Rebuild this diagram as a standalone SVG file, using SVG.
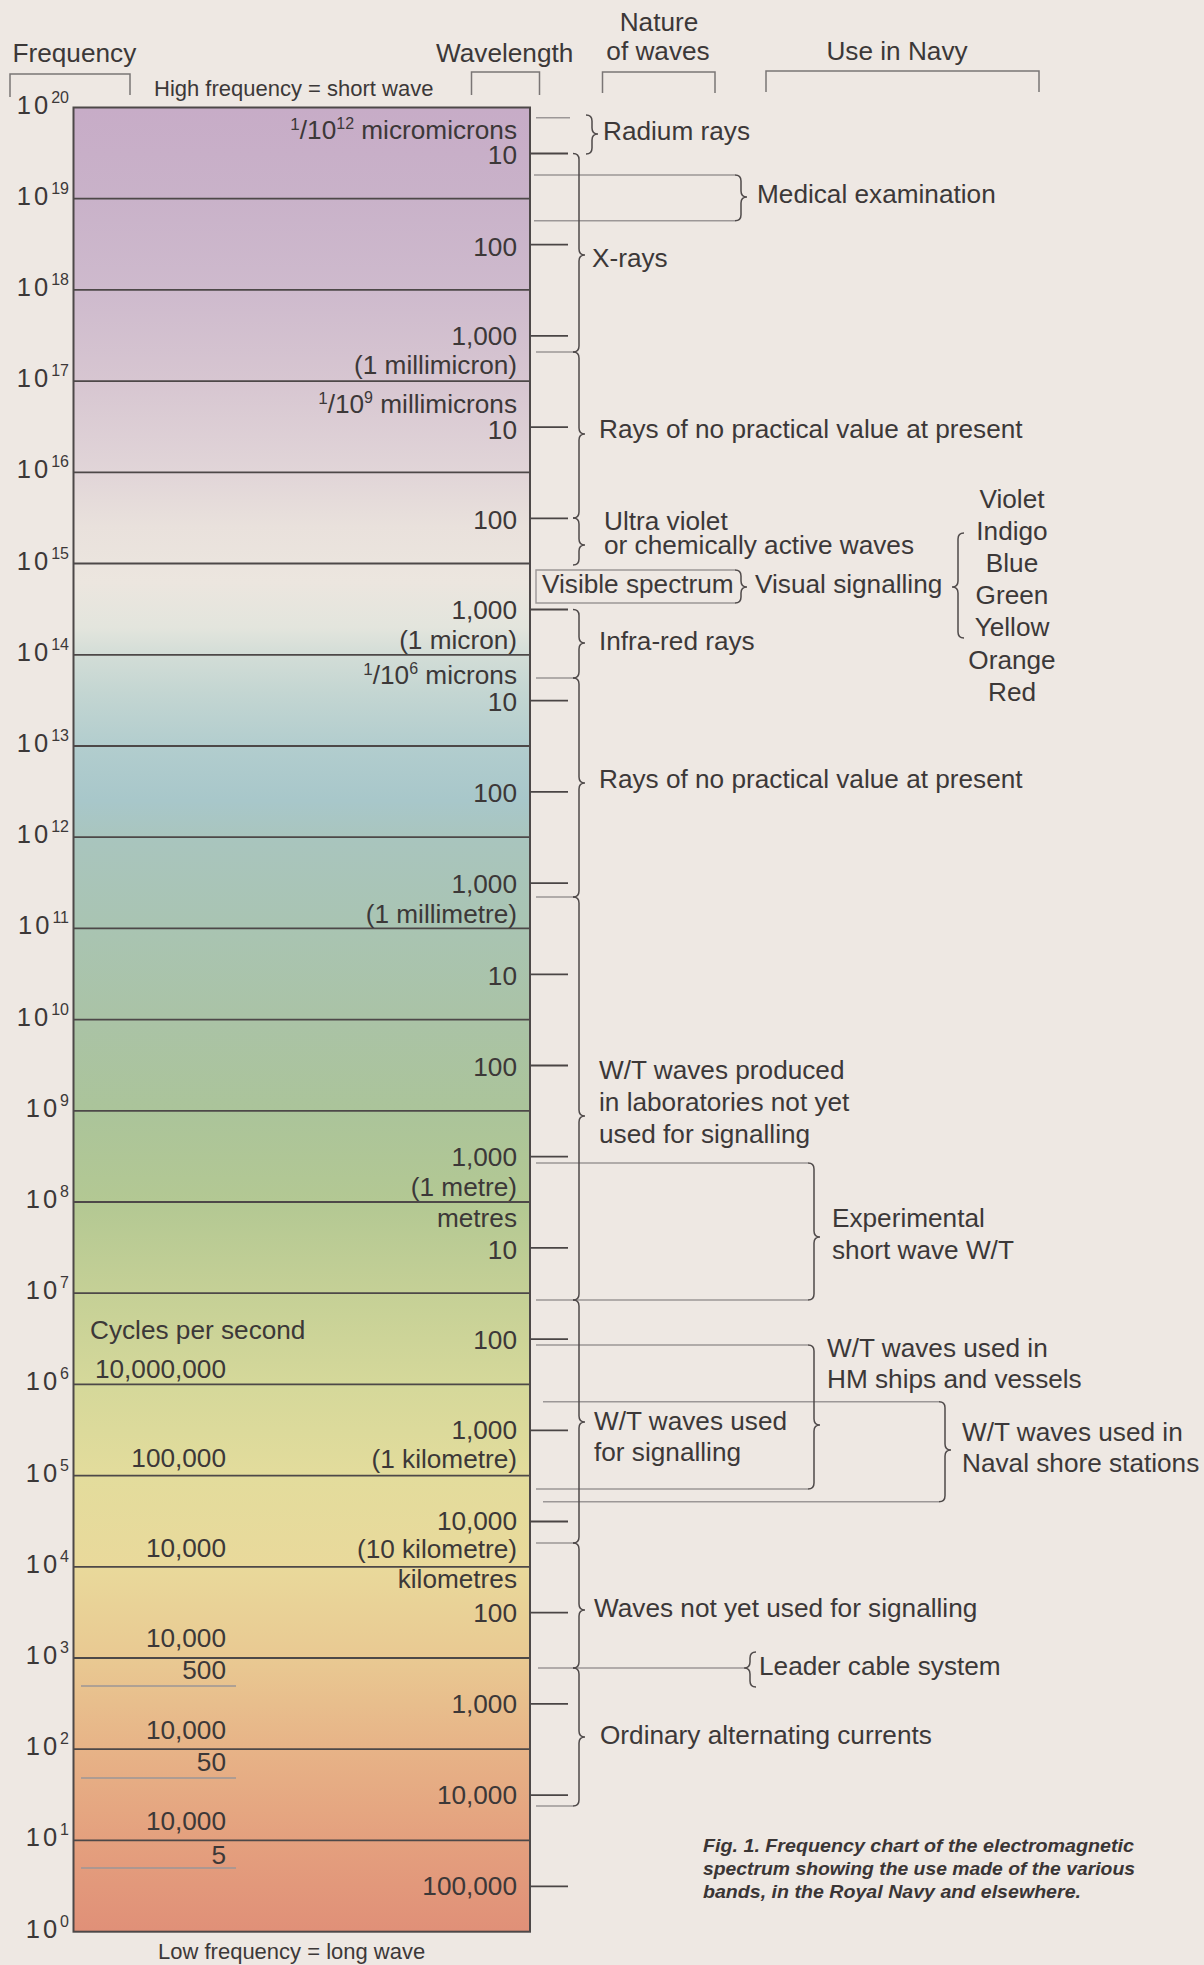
<svg xmlns="http://www.w3.org/2000/svg" width="1204" height="1965" viewBox="0 0 1204 1965">
<defs>
<linearGradient id="spec" x1="0" y1="0" x2="0" y2="1">
<stop offset="0" stop-color="#c7acc7"/>
<stop offset="0.05" stop-color="#c9b2c9"/>
<stop offset="0.10" stop-color="#cebacd"/>
<stop offset="0.15" stop-color="#d7c6d1"/>
<stop offset="0.20" stop-color="#e1d5d8"/>
<stop offset="0.23" stop-color="#e9e1dc"/>
<stop offset="0.26" stop-color="#ece6df"/>
<stop offset="0.285" stop-color="#e3e5dd"/>
<stop offset="0.30" stop-color="#d3ddd7"/>
<stop offset="0.32" stop-color="#c4d6d2"/>
<stop offset="0.35" stop-color="#b2cdce"/>
<stop offset="0.38" stop-color="#a8c7ca"/>
<stop offset="0.40" stop-color="#a9c5be"/>
<stop offset="0.45" stop-color="#a9c4b2"/>
<stop offset="0.50" stop-color="#aac3a6"/>
<stop offset="0.55" stop-color="#abc49a"/>
<stop offset="0.60" stop-color="#b3c893"/>
<stop offset="0.65" stop-color="#c5d096"/>
<stop offset="0.70" stop-color="#d5d89a"/>
<stop offset="0.75" stop-color="#e3dc9c"/>
<stop offset="0.80" stop-color="#e9d99b"/>
<stop offset="0.85" stop-color="#e9c992"/>
<stop offset="0.90" stop-color="#e7b387"/>
<stop offset="0.95" stop-color="#e4a07e"/>
<stop offset="1" stop-color="#e09078"/>
</linearGradient>
</defs>
<style>
text{font-family:"Liberation Sans",Arial,sans-serif;fill:#3c3838}
.t{font-size:26.2px}
.e{text-anchor:end}
.m{text-anchor:middle}
.sm{font-size:22px}
.fq{font-size:25.5px;letter-spacing:3px;text-anchor:end}
.ex{font-size:16px;letter-spacing:0}
.sup{font-size:17px}
.cap{font-size:19px;font-weight:bold;font-style:italic;fill:#3a3535}
.dl{stroke:#4d4848;stroke-width:1.8;fill:none}
.tk{stroke:#4a4545;stroke-width:1.8;fill:none}
.lt{stroke:#9c9797;stroke-width:1.4;fill:none}
.br{stroke:#4f4a4a;stroke-width:1.5;fill:none}
.hb{stroke:#7a7575;stroke-width:1.5;fill:none}
</style>
<rect x="0" y="0" width="1204" height="1965" fill="#eee8e3"/>

<g id="headers">
<text class="t" x="12.5" y="62">Frequency</text>
<text class="t" x="436" y="62">Wavelength</text>
<text class="t m" x="659" y="31">Nature</text>
<text class="t m" x="658" y="60">of waves</text>
<text class="t m" x="897" y="60">Use in Navy</text>
<path class="hb" d="M10 97 V74 H130 V95"/>
<path class="hb" d="M471.5 95 V72 H539.5 V95"/>
<path class="hb" d="M602.5 93 V72 H715 V93"/>
<path class="hb" d="M766 92 V71 H1039 V92"/>
<text class="sm" x="154" y="96">High frequency = short wave</text>
<text class="sm" x="158" y="1959">Low frequency = long wave</text>
</g>

<g id="spectrum-bar">
<rect x="73.5" y="107.5" width="456.5" height="1824.2" fill="url(#spec)" stroke="#4d4848" stroke-width="2"/>
<path class="dl" d="M73.5 198.7H530M73.5 289.9H530M73.5 381.1H530M73.5 472.3H530M73.5 563.5H530M73.5 654.8H530M73.5 746H530M73.5 837.2H530M73.5 928.4H530M73.5 1019.6H530M73.5 1110.8H530M73.5 1202H530M73.5 1293.2H530M73.5 1384.4H530M73.5 1475.6H530M73.5 1566.8H530M73.5 1658H530M73.5 1749.2H530M73.5 1840.4H530"/>
<path class="lt" d="M81 1686H236M81 1778H236M81 1868H236"/>
</g>

<g id="frequency-labels">
<text class="fq" x="69" y="113.5">10<tspan class="ex" dy="-11">20</tspan></text>
<text class="fq" x="69" y="204.7">10<tspan class="ex" dy="-11">19</tspan></text>
<text class="fq" x="69" y="295.9">10<tspan class="ex" dy="-11">18</tspan></text>
<text class="fq" x="69" y="387.1">10<tspan class="ex" dy="-11">17</tspan></text>
<text class="fq" x="69" y="478.3">10<tspan class="ex" dy="-11">16</tspan></text>
<text class="fq" x="69" y="569.5">10<tspan class="ex" dy="-11">15</tspan></text>
<text class="fq" x="69" y="660.8">10<tspan class="ex" dy="-11">14</tspan></text>
<text class="fq" x="69" y="752">10<tspan class="ex" dy="-11">13</tspan></text>
<text class="fq" x="69" y="843.2">10<tspan class="ex" dy="-11">12</tspan></text>
<text class="fq" x="69" y="934.4">10<tspan class="ex" dy="-11">11</tspan></text>
<text class="fq" x="69" y="1025.6">10<tspan class="ex" dy="-11">10</tspan></text>
<text class="fq" x="69" y="1116.8">10<tspan class="ex" dy="-11">9</tspan></text>
<text class="fq" x="69" y="1208">10<tspan class="ex" dy="-11">8</tspan></text>
<text class="fq" x="69" y="1299.2">10<tspan class="ex" dy="-11">7</tspan></text>
<text class="fq" x="69" y="1390.4">10<tspan class="ex" dy="-11">6</tspan></text>
<text class="fq" x="69" y="1481.6">10<tspan class="ex" dy="-11">5</tspan></text>
<text class="fq" x="69" y="1572.8">10<tspan class="ex" dy="-11">4</tspan></text>
<text class="fq" x="69" y="1664">10<tspan class="ex" dy="-11">3</tspan></text>
<text class="fq" x="69" y="1755.2">10<tspan class="ex" dy="-11">2</tspan></text>
<text class="fq" x="69" y="1846.4">10<tspan class="ex" dy="-11">1</tspan></text>
<text class="fq" x="69" y="1937.7">10<tspan class="ex" dy="-11">0</tspan></text>
</g>

<g id="wavelength-labels">
<text class="t e" x="517" y="139"><tspan class="sup" dy="-9">1</tspan><tspan dy="9">/10</tspan><tspan class="ex" dy="-10">12</tspan><tspan dy="10"> micromicrons</tspan></text>
<text class="t e" x="517" y="164">10</text>
<text class="t e" x="517" y="255.5">100</text>
<text class="t e" x="517" y="345">1,000</text>
<text class="t e" x="517" y="374">(1 millimicron)</text>
<text class="t e" x="517" y="413"><tspan class="sup" dy="-9">1</tspan><tspan dy="9">/10</tspan><tspan class="ex" dy="-10">9</tspan><tspan dy="10"> millimicrons</tspan></text>
<text class="t e" x="517" y="439">10</text>
<text class="t e" x="517" y="529">100</text>
<text class="t e" x="517" y="619">1,000</text>
<text class="t e" x="517" y="649">(1 micron)</text>
<text class="t e" x="517" y="684"><tspan class="sup" dy="-9">1</tspan><tspan dy="9">/10</tspan><tspan class="ex" dy="-10">6</tspan><tspan dy="10"> microns</tspan></text>
<text class="t e" x="517" y="711">10</text>
<text class="t e" x="517" y="802">100</text>
<text class="t e" x="517" y="893">1,000</text>
<text class="t e" x="517" y="923">(1 millimetre)</text>
<text class="t e" x="517" y="985">10</text>
<text class="t e" x="517" y="1076">100</text>
<text class="t e" x="517" y="1166">1,000</text>
<text class="t e" x="517" y="1196">(1 metre)</text>
<text class="t e" x="517" y="1227">metres</text>
<text class="t e" x="517" y="1258.5">10</text>
<text class="t e" x="517" y="1349">100</text>
<text class="t e" x="517" y="1439">1,000</text>
<text class="t e" x="517" y="1468">(1 kilometre)</text>
<text class="t e" x="517" y="1530">10,000</text>
<text class="t e" x="517" y="1558">(10 kilometre)</text>
<text class="t e" x="517" y="1588">kilometres</text>
<text class="t e" x="517" y="1622">100</text>
<text class="t e" x="517" y="1713">1,000</text>
<text class="t e" x="517" y="1804">10,000</text>
<text class="t e" x="517" y="1895">100,000</text>
</g>

<g id="cycles-labels">
<text class="t" x="90" y="1339">Cycles per second</text>
<text class="t e" x="226" y="1378">10,000,000</text>
<text class="t e" x="226" y="1467">100,000</text>
<text class="t e" x="226" y="1557">10,000</text>
<text class="t e" x="226" y="1647">10,000</text>
<text class="t e" x="226" y="1679">500</text>
<text class="t e" x="226" y="1738.5">10,000</text>
<text class="t e" x="226" y="1771">50</text>
<text class="t e" x="226" y="1830">10,000</text>
<text class="t e" x="226" y="1864">5</text>
</g>

<g id="connectors">
<path class="tk" d="M530 153.5H568M530 244.7H568M530 335.9H568M530 427.1H568M530 518.3H568M530 609.5H568M530 700.7H568M530 791.9H568M530 883.1H568M530 974.3H568M530 1065.5H568M530 1156.7H568M530 1247.9H568M530 1339.1H568M530 1430.3H568M530 1521.5H568M530 1612.7H568M530 1703.9H568M530 1795.1H568M530 1886.3H568"/>
<path class="lt" d="M536 117.7H570M536 352H573M536 678H573M536 897H573M536 1543H573M536 1806H573"/>
<path class="lt" d="M534 175H735M534 220.7H735"/>
<path class="lt" d="M735 570H536V603H735"/>
<path class="lt" d="M536 1163H808M536 1300H808"/>
<path class="lt" d="M536 1345H808M536 1489H808"/>
<path class="lt" d="M543 1401.7H939M543 1501.7H939"/>
<path class="lt" d="M538 1668H744"/>
</g>

<g id="radium-rays">
<path class="br" d="M586 115 Q592 115 592 121 L592 128 Q592 134 598 134 Q592 134 592 140 L592 148 Q592 154 586 154"/>
<text class="t" x="603" y="140">Radium rays</text>
</g>
<g id="x-rays">
<path class="br" d="M573 153.5 Q579 153.5 579 159.5 L579 249 Q579 255 585 255 Q579 255 579 261 L579 346 Q579 352 573 352"/>
<text class="t" x="592" y="267">X-rays</text>
</g>
<g id="medical">
<path class="br" d="M735 175 Q741 175 741 181 L741 191 Q741 197 747 197 Q741 197 741 203 L741 214.7 Q741 220.7 735 220.7"/>
<text class="t" x="757" y="203">Medical examination</text>
</g>
<g id="rays-1">
<path class="br" d="M573 352 Q579 352 579 358 L579 428 Q579 434 585 434 Q579 434 579 440 L579 512 Q579 518 573 518"/>
<text class="t" x="599" y="438">Rays of no practical value at present</text>
</g>
<g id="ultra-violet">
<path class="br" d="M573 518 Q579 518 579 524 L579 539 Q579 545 585 545 Q579 545 579 551 L579 559 Q579 565 573 565"/>
<text class="t" x="604" y="530">Ultra violet</text>
<text class="t" x="604" y="554">or chemically active waves</text>
</g>
<g id="visible-spectrum">
<path class="br" d="M735 570 Q741 570 741 576 L741 581 Q741 587 747 587 Q741 587 741 593 L741 597 Q741 603 735 603"/>
<text class="t" x="542" y="593">Visible spectrum</text>
<text class="t" x="755" y="593">Visual signalling</text>
</g>
<g id="colours">
<path class="br" d="M964 533 Q958 533 958 539 L958 581 Q958 587 952 587 Q958 587 958 593 L958 632 Q958 638 964 638"/>
<text class="t m" x="1012" y="507.5">Violet</text>
<text class="t m" x="1012" y="540">Indigo</text>
<text class="t m" x="1012" y="571.5">Blue</text>
<text class="t m" x="1012" y="604">Green</text>
<text class="t m" x="1012" y="635.5">Yellow</text>
<text class="t m" x="1012" y="669">Orange</text>
<text class="t m" x="1012" y="700.5">Red</text>
</g>
<g id="infra-red">
<path class="br" d="M573 609.5 Q579 609.5 579 615.5 L579 637 Q579 643 585 643 Q579 643 579 649 L579 672 Q579 678 573 678"/>
<text class="t" x="599" y="650">Infra-red rays</text>
</g>
<g id="rays-2">
<path class="br" d="M573 678 Q579 678 579 684 L579 777 Q579 783 585 783 Q579 783 579 789 L579 891 Q579 897 573 897"/>
<text class="t" x="599" y="788">Rays of no practical value at present</text>
</g>
<g id="lab-waves">
<path class="br" d="M573 897 Q579 897 579 903 L579 1110 Q579 1116 585 1116 Q579 1116 579 1122 L579 1294 Q579 1300 573 1300"/>
<text class="t" x="599" y="1079">W/T waves produced</text>
<text class="t" x="599" y="1111">in laboratories not yet</text>
<text class="t" x="599" y="1143">used for signalling</text>
</g>
<g id="experimental">
<path class="br" d="M808 1163 Q814 1163 814 1169 L814 1231 Q814 1237 820 1237 Q814 1237 814 1243 L814 1294 Q814 1300 808 1300"/>
<text class="t" x="832" y="1227">Experimental</text>
<text class="t" x="832" y="1259">short wave W/T</text>
</g>
<g id="wt-signalling">
<path class="br" d="M573 1300 Q579 1300 579 1306 L579 1416 Q579 1422 585 1422 Q579 1422 579 1428 L579 1537 Q579 1543 573 1543"/>
<text class="t" x="594" y="1430">W/T waves used</text>
<text class="t" x="594" y="1461">for signalling</text>
</g>
<g id="hm-ships">
<path class="br" d="M808 1345 Q814 1345 814 1351 L814 1419 Q814 1425 820 1425 Q814 1425 814 1431 L814 1483 Q814 1489 808 1489"/>
<text class="t" x="827" y="1357">W/T waves used in</text>
<text class="t" x="827" y="1388">HM ships and vessels</text>
</g>
<g id="shore-stations">
<path class="br" d="M939 1401.7 Q945 1401.7 945 1407.7 L945 1444 Q945 1450 951 1450 Q945 1450 945 1456 L945 1495.7 Q945 1501.7 939 1501.7"/>
<text class="t" x="962" y="1441">W/T waves used in</text>
<text class="t" x="962" y="1472">Naval shore stations</text>
</g>
<g id="not-yet-used">
<path class="br" d="M573 1543 Q579 1543 579 1549 L579 1604 Q579 1610 585 1610 Q579 1610 579 1616 L579 1662 Q579 1668 573 1668"/>
<text class="t" x="594" y="1617">Waves not yet used for signalling</text>
</g>
<g id="leader-cable">
<path class="br" d="M756 1652 Q750 1652 750 1658 L750 1662 Q750 1668 744 1668 Q750 1668 750 1674 L750 1681 Q750 1687 756 1687"/>
<text class="t" x="759" y="1675">Leader cable system</text>
</g>
<g id="alternating-currents">
<path class="br" d="M573 1668 Q579 1668 579 1674 L579 1731 Q579 1737 585 1737 Q579 1737 579 1743 L579 1800 Q579 1806 573 1806"/>
<text class="t" x="600" y="1744">Ordinary alternating currents</text>
</g>

<g id="caption">
<text class="cap" x="703" y="1852" textLength="431" lengthAdjust="spacingAndGlyphs">Fig. 1. Frequency chart of the electromagnetic</text>
<text class="cap" x="703" y="1875" textLength="432" lengthAdjust="spacingAndGlyphs">spectrum showing the use made of the various</text>
<text class="cap" x="703" y="1898" textLength="378" lengthAdjust="spacingAndGlyphs">bands, in the Royal Navy and elsewhere.</text>
</g>
</svg>
